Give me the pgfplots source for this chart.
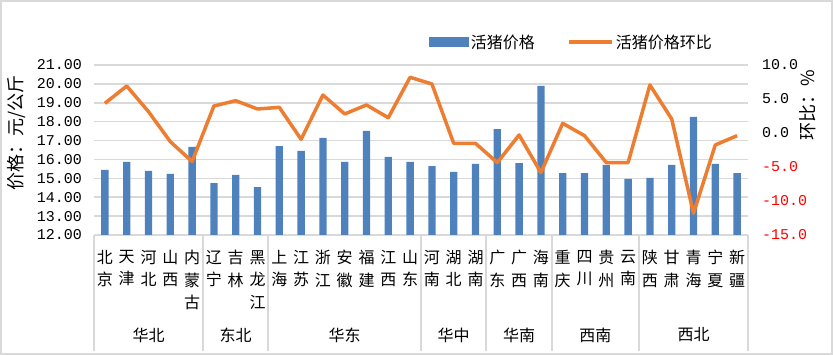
\documentclass[border=0pt]{standalone}
\usepackage{pgfplots}
\pgfplotsset{compat=1.18}
\usepackage{pgfplotstable}
\usepackage{fontspec}
\setmainfont{Liberation Serif}
\newfontfamily\cjk{Noto Sans CJK SC}
\newfontfamily\tickfont{Liberation Mono}
\definecolor{barblue}{HTML}{4F81BD}
\definecolor{lineor}{HTML}{ED7D31}
\definecolor{gridg}{HTML}{D9D9D9}
\pgfplotstableread{
x price ratio
0 15.45 4.36
1 15.87 6.91
2 15.39 3.14
3 15.23 -1.27
4 16.66 -4.20
5 14.75 3.97
6 15.18 4.75
7 14.54 3.53
8 16.71 3.77
9 16.45 -0.93
10 17.14 5.59
11 15.87 2.80
12 17.51 4.12
13 16.13 2.25
14 15.87 8.19
15 15.65 7.21
16 15.34 -1.52
17 15.76 -1.52
18 17.61 -4.36
19 15.81 -0.29
20 19.89 -5.83
21 15.28 1.42
22 15.28 -0.39
23 15.71 -4.36
24 14.97 -4.36
25 15.02 7.06
26 15.71 2.06
27 18.25 -11.81
28 15.76 -1.76
29 15.28 -0.39
}\datatable
\begin{document}
\begin{tikzpicture}
\path[use as bounding box] (0,0) rectangle (833pt,355pt);
\draw[gridg, line width=2pt] (1pt,1pt) rectangle (832pt,354pt);
\begin{axis}[
  scale only axis, width=654pt, height=170pt, at={(94pt,120pt)}, anchor=south west,
  xmin=-0.5, xmax=29.5, ymin=12, ymax=21,
  axis line style={draw=none}, major tick length=0pt,
  ymajorgrids, grid style={gridg, line width=1.5pt},
  ytick={12,13,...,21},
  yticklabels={12.00,13.00,14.00,15.00,16.00,17.00,18.00,19.00,20.00,21.00},
  yticklabel style={font=\tickfont\fontsize{15}{15}\selectfont, anchor=east, inner sep=0pt, xshift=-12pt},
  xtick={0,...,29},
  xticklabels={{北\\京},{天\\津},{河\\北},{山\\西},{内\\蒙\\古},{辽\\宁},{吉\\林},{黑\\龙\\江},{上\\海},{江\\苏},{浙\\江},{安\\徽},{福\\建},{江\\西},{山\\东},{河\\南},{湖\\北},{湖\\南},{广\\东},{广\\西},{海\\南},{重\\庆},{四\\川},{贵\\州},{云\\南},{陕\\西},{甘\\肃},{青\\海},{宁\\夏},{新\\疆}},
  xticklabel style={font=\cjk\fontsize{16}{22.5}\selectfont, align=center, anchor=north, inner sep=0pt, yshift=-15pt},
  ylabel={价格：元/公斤},
  every axis y label/.style={at={(rel axis cs:-0.1177,0.6)}, rotate=90, anchor=center, font=\cjk\fontsize{18}{18}\selectfont},
  legend style={at={(0.730,1.135)}, anchor=center, draw=none, fill=none, legend columns=2,
    font=\cjk\fontsize{16}{16}\selectfont, /tikz/every even column/.append style={column sep=30pt}},
]
\addplot[ybar, bar width=7.3pt, fill=barblue, draw=none,
  legend image code/.code={\fill[barblue] (0pt,-5pt) rectangle (40pt,5pt);}]
  table[x=x, y=price]{\datatable};
\addlegendentry{活猪价格}
\addlegendimage{legend image code/.code={\draw[lineor, line width=4pt] (0pt,0pt) -- (43pt,0pt);}}
\addlegendentry{活猪价格环比}
\end{axis}
\begin{axis}[
  scale only axis, width=654pt, height=170pt, at={(94pt,120pt)}, anchor=south west,
  xmin=-0.5, xmax=29.5, ymin=-15, ymax=10,
  axis x line=none, axis y line*=right, y axis line style={draw=none}, major tick length=0pt,
  clip=false,
  ytick={-15,-10,-5,0,5,10},
  yticklabels={{\color{red}-15.0},{\color{red}-10.0},{\color{red}-5.0},0.0,5.0,10.0},
  yticklabel style={font=\tickfont\fontsize{15}{15}\selectfont, anchor=west, inner sep=0pt, xshift=14pt},
  ylabel={环比：\%},
  every axis y label/.style={at={(rel axis cs:1.0917,0.765)}, rotate=90, anchor=center, font=\cjk\fontsize{18}{18}\selectfont},
]
\addplot[lineor, line width=3.5pt, line join=round] table[x=x, y=ratio]{\datatable};
\draw[gridg, line width=2pt] (axis cs:-0.5,-15) -- (axis cs:-0.5,-32.06);
\draw[gridg, line width=2pt] (axis cs:4.5,-15) -- (axis cs:4.5,-32.06);
\draw[gridg, line width=2pt] (axis cs:7.5,-15) -- (axis cs:7.5,-32.06);
\draw[gridg, line width=2pt] (axis cs:14.5,-15) -- (axis cs:14.5,-32.06);
\draw[gridg, line width=2pt] (axis cs:17.5,-15) -- (axis cs:17.5,-32.06);
\draw[gridg, line width=2pt] (axis cs:20.5,-15) -- (axis cs:20.5,-32.06);
\draw[gridg, line width=2pt] (axis cs:24.5,-15) -- (axis cs:24.5,-32.06);
\draw[gridg, line width=2pt] (axis cs:29.5,-15) -- (axis cs:29.5,-32.06);
\node[font=\cjk\fontsize{16}{16}\selectfont, yshift=-100pt] at (axis cs:2,-15) {华北};
\node[font=\cjk\fontsize{16}{16}\selectfont, yshift=-100pt] at (axis cs:6,-15) {东北};
\node[font=\cjk\fontsize{16}{16}\selectfont, yshift=-100pt] at (axis cs:11,-15) {华东};
\node[font=\cjk\fontsize{16}{16}\selectfont, yshift=-100pt] at (axis cs:16,-15) {华中};
\node[font=\cjk\fontsize{16}{16}\selectfont, yshift=-100pt] at (axis cs:19,-15) {华南};
\node[font=\cjk\fontsize{16}{16}\selectfont, yshift=-100pt] at (axis cs:22.5,-15) {西南};
\node[font=\cjk\fontsize{16}{16}\selectfont, yshift=-100pt] at (axis cs:27,-15) {西北};
\end{axis}
\end{tikzpicture}
\end{document}
